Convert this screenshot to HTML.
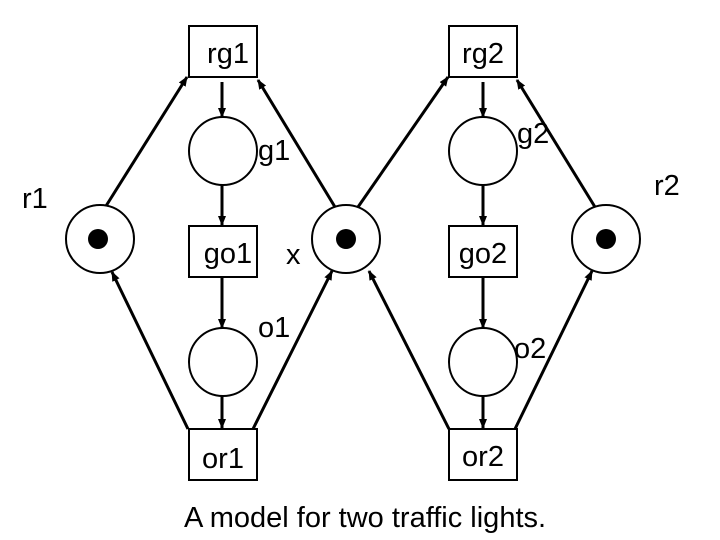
<!DOCTYPE html>
<html><head><style>body{margin:0;background:#fff}svg{display:block}text{font-family:"Liberation Sans",Arial,sans-serif;font-size:29px;fill:#000}</style></head><body>
<svg width="720" height="540" viewBox="0 0 720 540">
<defs><marker id="a" markerWidth="10" markerHeight="10" refX="9" refY="5" orient="auto" markerUnits="userSpaceOnUse"><path d="M0,1 L10,5 L0,9 Z" fill="#000"/></marker></defs>
<g fill="none" stroke="#000" stroke-width="2">
<rect x="189" y="26" width="68" height="51"/>
<rect x="449" y="26" width="68" height="51"/>
<rect x="189" y="226" width="68" height="51"/>
<rect x="449" y="226" width="68" height="51"/>
<rect x="189" y="429" width="68" height="51"/>
<rect x="449" y="429" width="68" height="51"/>
<circle cx="223" cy="151" r="34"/>
<circle cx="483" cy="151" r="34"/>
<circle cx="223" cy="362" r="34"/>
<circle cx="483" cy="362" r="34"/>
<circle cx="100" cy="239" r="34"/>
<circle cx="346" cy="239" r="34"/>
<circle cx="606" cy="239" r="34"/>
</g>
<g fill="#000"><circle cx="98" cy="239" r="10"/><circle cx="346" cy="239" r="10"/><circle cx="606" cy="239" r="10"/></g>
<g stroke="#000" stroke-width="3" marker-end="url(#a)">
<line x1="222" y1="82" x2="222" y2="117"/>
<line x1="222" y1="185" x2="222" y2="225"/>
<line x1="222" y1="278" x2="222" y2="328"/>
<line x1="222" y1="396" x2="222" y2="428"/>
<line x1="483" y1="82" x2="483" y2="117"/>
<line x1="483" y1="185" x2="483" y2="225"/>
<line x1="483" y1="278" x2="483" y2="328"/>
<line x1="483" y1="396" x2="483" y2="428"/>
<line x1="106" y1="206" x2="187" y2="77"/>
<line x1="335" y1="207" x2="258" y2="80"/>
<line x1="358" y1="207" x2="448" y2="77"/>
<line x1="595" y1="207" x2="517" y2="80"/>
<line x1="188" y1="429" x2="112" y2="272"/>
<line x1="253" y1="429" x2="332" y2="271"/>
<line x1="449" y1="429" x2="369" y2="271"/>
<line x1="515" y1="429" x2="592" y2="271"/>
</g>
<text x="228" y="63" text-anchor="middle">rg1</text>
<text x="483" y="63" text-anchor="middle">rg2</text>
<text x="228" y="263" text-anchor="middle">go1</text>
<text x="483" y="263" text-anchor="middle">go2</text>
<text x="223" y="468" text-anchor="middle">or1</text>
<text x="483" y="466" text-anchor="middle">or2</text>
<text x="258" y="160">g1</text>
<text x="517" y="143">g2</text>
<text x="22" y="208">r1</text>
<text x="654" y="195">r2</text>
<text x="286" y="264">x</text>
<text x="258" y="337">o1</text>
<text x="514" y="358">o2</text>
<text x="365" y="527" text-anchor="middle">A model for two traffic lights.</text>
</svg>
</body></html>
